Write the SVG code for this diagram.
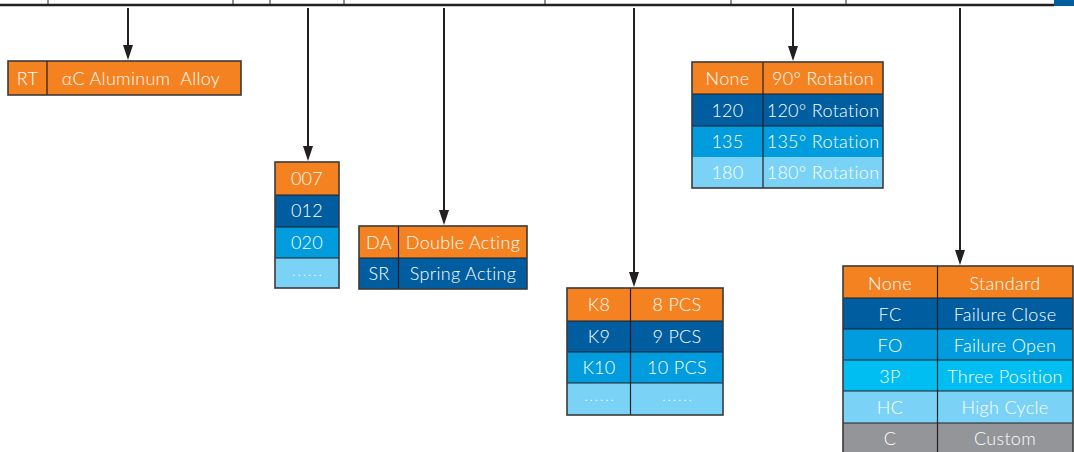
<svg xmlns="http://www.w3.org/2000/svg" width="1074" height="452" viewBox="0 0 1074 452">
<defs>
<style>
.t{font-family:Lato,"Open Sans","Liberation Sans",sans-serif;font-size:18px;font-weight:300;letter-spacing:0.3px;fill:#fff;text-anchor:middle;white-space:pre}
.dt{font-size:14px;letter-spacing:2px}
.o{fill:#F58220}.d{fill:#005DA0}.m{fill:#009CDE}.c{fill:#00BDF2}.l{fill:#7AD3F7}.g{fill:#939598}
.bx{fill:none;stroke:#3a3a3a;stroke-width:1.6}
.ln{stroke:#231F20;stroke-width:1.2}
.cn{stroke:#231F20;stroke-width:2;fill:none}
.ah{fill:#231F20}
</style>
</defs>
<g id="topbar">
<line x1="0" y1="5" x2="1054" y2="5" stroke="#231F20" stroke-width="2.4"/>
<g stroke="#231F20" stroke-width="1">
<line x1="48" y1="0" x2="48" y2="5"/>
<line x1="233" y1="0" x2="233" y2="5"/>
<line x1="270" y1="0" x2="270" y2="5"/>
<line x1="344" y1="0" x2="344" y2="5"/>
<line x1="545" y1="0" x2="545" y2="5"/>
<line x1="731" y1="0" x2="731" y2="5"/>
<line x1="846" y1="0" x2="846" y2="5"/>
</g>
<rect x="1054" y="0" width="20" height="6" class="d"/>
</g>
<g id="connectors">
<path class="cn" d="M128,8 V46"/>
<path class="ah" d="M123,45 L133,45 L128,60 Z"/>
<path class="cn" d="M308,8 V147"/>
<path class="ah" d="M303,146 L313,146 L308,161 Z"/>
<path class="cn" d="M444,8 V211"/>
<path class="ah" d="M439,210 L449,210 L444,225 Z"/>
<path class="cn" d="M634,8 V273"/>
<path class="ah" d="M629,272 L639,272 L634,287 Z"/>
<path class="cn" d="M793,8 V47"/>
<path class="ah" d="M788,46 L798,46 L793,61 Z"/>
<path class="cn" d="M960,8 V251"/>
<path class="ah" d="M955,250 L965,250 L960,265 Z"/>
</g>
<g id="material">
<rect x="8" y="61" width="233" height="34" class="o"/>
<line x1="47" y1="61" x2="47" y2="95" class="ln"/>
<rect x="8" y="61" width="233" height="34" class="bx"/>
<text x="27.5" y="85" class="t">RT</text>
<text x="141" y="85" class="t">αC Aluminum  Alloy</text>
</g>
<g id="size">
<rect x="275" y="162" width="64" height="33" class="o"/>
<rect x="275" y="195" width="64" height="32" class="d"/>
<rect x="275" y="227" width="64" height="31" class="m"/>
<rect x="275" y="258" width="64" height="30" class="l"/>
<line x1="275" y1="195" x2="339" y2="195" class="ln"/>
<line x1="275" y1="227" x2="339" y2="227" class="ln"/>
<line x1="275" y1="258" x2="339" y2="258" class="ln"/>
<rect x="275" y="162" width="64" height="126" class="bx"/>
<text x="307" y="185" class="t">007</text>
<text x="307" y="217" class="t">012</text>
<text x="307" y="249" class="t">020</text>
<text x="308" y="276" class="t dt">......</text>
</g>
<g id="acting">
<rect x="359" y="226" width="168" height="32" class="o"/>
<rect x="359" y="258" width="168" height="31" class="d"/>
<line x1="359" y1="258" x2="527" y2="258" class="ln"/>
<line x1="398.5" y1="226" x2="398.5" y2="289" class="ln"/>
<rect x="359" y="226" width="168" height="63" class="bx"/>
<text x="379" y="249" class="t">DA</text>
<text x="463" y="249" class="t">Double Acting</text>
<text x="379" y="280" class="t">SR</text>
<text x="463" y="280" class="t">Spring Acting</text>
</g>
<g id="springs">
<rect x="567" y="288" width="156" height="33" class="o"/>
<rect x="567" y="321" width="156" height="31" class="d"/>
<rect x="567" y="352" width="156" height="31" class="m"/>
<rect x="567" y="383" width="156" height="32" class="l"/>
<line x1="567" y1="321" x2="723" y2="321" class="ln"/>
<line x1="567" y1="352" x2="723" y2="352" class="ln"/>
<line x1="567" y1="383" x2="723" y2="383" class="ln"/>
<line x1="630.5" y1="288" x2="630.5" y2="415" class="ln"/>
<rect x="567" y="288" width="156" height="127" class="bx"/>
<text x="599" y="311" class="t">K8</text>
<text x="677" y="311" class="t">8 PCS</text>
<text x="599" y="343" class="t">K9</text>
<text x="677" y="343" class="t">9 PCS</text>
<text x="599" y="374" class="t">K10</text>
<text x="677" y="374" class="t">10 PCS</text>
<text x="600" y="401" class="t dt">......</text>
<text x="678" y="401" class="t dt">......</text>
</g>
<g id="rotation">
<rect x="692" y="62" width="191" height="32" class="o"/>
<rect x="692" y="94" width="191" height="32" class="d"/>
<rect x="692" y="126" width="191" height="31" class="m"/>
<rect x="692" y="157" width="191" height="31" class="l"/>
<line x1="692" y1="94" x2="883" y2="94" class="ln"/>
<line x1="692" y1="126" x2="883" y2="126" class="ln"/>
<line x1="763" y1="62" x2="763" y2="188" class="ln"/>
<rect x="692" y="62" width="191" height="126" class="bx"/>
<text x="727.5" y="85" class="t">None</text>
<text x="823" y="85" class="t">90° Rotation</text>
<text x="727.5" y="117" class="t">120</text>
<text x="823" y="117" class="t">120° Rotation</text>
<text x="727.5" y="148" class="t">135</text>
<text x="823" y="148" class="t">135° Rotation</text>
<text x="727.5" y="179" class="t">180</text>
<text x="823" y="179" class="t">180° Rotation</text>
</g>
<g id="function">
<rect x="843" y="266" width="230" height="32" class="o"/>
<rect x="843" y="298" width="230" height="31" class="d"/>
<rect x="843" y="329" width="230" height="31" class="m"/>
<rect x="843" y="360" width="230" height="31" class="c"/>
<rect x="843" y="391" width="230" height="32" class="l"/>
<rect x="843" y="423" width="230" height="31" class="g"/>
<line x1="843" y1="298" x2="1073" y2="298" class="ln"/>
<line x1="843" y1="329" x2="1073" y2="329" class="ln"/>
<line x1="843" y1="360" x2="1073" y2="360" class="ln"/>
<line x1="843" y1="391" x2="1073" y2="391" class="ln"/>
<line x1="843" y1="423" x2="1073" y2="423" class="ln"/>
<line x1="937.5" y1="266" x2="937.5" y2="452" class="ln"/>
<rect x="843" y="266" width="230" height="190" class="bx"/>
<text x="890" y="290" class="t">None</text>
<text x="1005" y="290" class="t">Standard</text>
<text x="890" y="321" class="t">FC</text>
<text x="1005" y="321" class="t">Failure Close</text>
<text x="890" y="352" class="t">FO</text>
<text x="1005" y="352" class="t">Failure Open</text>
<text x="890" y="383" class="t">3P</text>
<text x="1005" y="383" class="t">Three Position</text>
<text x="890" y="414" class="t">HC</text>
<text x="1005" y="414" class="t">High Cycle</text>
<text x="890" y="445" class="t">C</text>
<text x="1005" y="445" class="t">Custom</text>
</g>
</svg>
